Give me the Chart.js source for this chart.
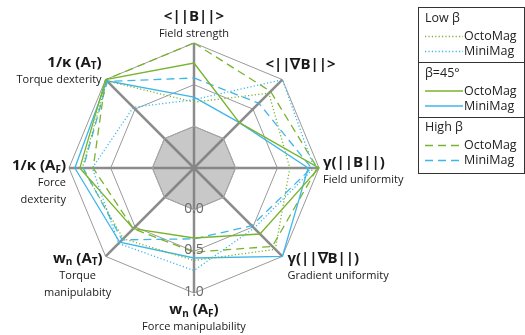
<!DOCTYPE html>
<html>
<head>
<meta charset="utf-8">
<script src="https://cdn.jsdelivr.net/npm/chart.js@4.4.1/dist/chart.umd.min.js"></script>
<style>
  html, body { margin: 0; padding: 0; background: #fff; }
  canvas { display: block; }
</style>
</head>
<body>
<canvas id="radarChart" width="525" height="335"></canvas>
<script>
// axes, clockwise from the top
var labels = ['<||B||>', '<||∇B||>', 'γ(||B||)', 'γ(||∇B||)', 'wn (AF)', 'wn (AT)', '1/κ (AF)', '1/κ (AT)'];
// same titles, "_x" marks a one-letter subscript
var titles = ['<||B||>', '<||∇B||>', 'γ(||B||)', 'γ(||∇B||)', 'w_n (A_F)', 'w_n (A_T)', '1/κ (A_F)', '1/κ (A_T)'];
var subtitles = [['Field strength'], [], ['Field uniformity'], ['Gradient uniformity'],
                 ['Force manipulability'], ['Torque', 'manipulabity'], ['Force', 'dexterity'], ['Torque dexterity']];
var tickValues = [0, 0.5, 1.0];
var tickLabels = ['0.0', '0.5', '1.0'];

var groups = ['Low β', 'β=45°', 'High β'];
var devices = ['OctoMag', 'MiniMag'];

var octoLow  = [0.29, 0.77, 0.65, 0.88, 0.61, 0.70, 0.84, 0.98];
var miniLow  = [0.32, 1.00, 0.94, 0.52, 0.73, 0.78, 0.72, 0.53];
var octoMid  = [0.76, 0.27, 1.00, 0.62, 0.34, 0.53, 0.87, 1.00];
var miniMid  = [0.35, 0.27, 0.87, 1.00, 0.58, 0.76, 0.93, 0.98];
var octoHigh = [1.00, 0.80, 0.98, 0.83, 0.51, 0.53, 0.71, 1.00];
var miniHigh = [0.58, 0.60, 0.91, 0.48, 0.35, 0.72, 0.83, 0.97];
var baseline = [0, 0, 0, 0, 0, 0, 0, 0];

var green = '#78b42e';
var blue = '#3eb6ea';
var dotted = [1.2, 2.2];
var dashed = [8, 5];

function series(label, values, color, dash) {
    return {
        label: label,
        data: values,
        borderColor: color,
        borderDash: dash,
        borderWidth: 1.3,
        backgroundColor: 'transparent',
        fill: false,
        pointRadius: 0,
        pointHoverRadius: 0
    };
}

// draws "w_n (A_F)" style text with subscripts
function drawRich(ctx, text, x, y, align, size) {
    var parts = [];
    for (var i = 0; i < text.length; i++) {
        if (text[i] === '_' && i + 1 < text.length) {
            parts.push({ t: text[i + 1], sub: true });
            i++;
        } else {
            parts.push({ t: text[i], sub: false });
        }
    }
    var big = 'bold ' + size + 'px "Open Sans"';
    var small = 'bold ' + Math.round(size * 0.68) + 'px "Open Sans"';
    var total = 0;
    parts.forEach(function (p) {
        ctx.font = p.sub ? small : big;
        p.w = ctx.measureText(p.t).width;
        total += p.w;
    });
    var cx = align === 'center' ? x - total / 2 : (align === 'right' ? x - total : x);
    ctx.textAlign = 'left';
    ctx.textBaseline = 'middle';
    parts.forEach(function (p) {
        ctx.font = p.sub ? small : big;
        ctx.fillText(p.t, cx, p.sub ? y + 4 : y);
        cx += p.w;
    });
}

// label placement relative to each outer vertex
var labelLayout = [
    { align: 'center', dx: 0,   dy: -26 },
    { align: 'left',   dx: -17, dy: -15 },
    { align: 'left',   dx: 4,   dy: -5 },
    { align: 'left',   dx: 5,   dy: 2 },
    { align: 'center', dx: 0,   dy: 17 },
    { align: 'right',  dx: -3,  dy: 2, subAlign: 'center', subDx: -25 },
    { align: 'right',  dx: -3,  dy: -2 },
    { align: 'right',  dx: -4,  dy: -17 }
];

var axisLabels = {
    id: 'axisLabels',
    afterDatasetsDraw: function (chart) {
        var ctx = chart.ctx;
        var scale = chart.scales.r;
        ctx.save();
        ctx.fillStyle = '#1a1a1a';
        titles.forEach(function (title, i) {
            var p = scale.getPointPosition(i, scale.drawingArea);
            var lay = labelLayout[i];
            var x = p.x + lay.dx;
            var y = p.y + lay.dy;
            drawRich(ctx, title, x, y, lay.align, 15);
            ctx.font = '11px "Open Sans"';
            ctx.textAlign = lay.subAlign || lay.align;
            subtitles[i].forEach(function (line, k) {
                ctx.fillText(line, x + (lay.subDx || 0), y + 17 + k * 17);
            });
        });

        // radial tick labels along the lower axis
        ctx.font = '14px "Open Sans"';
        ctx.fillStyle = '#6a6a6a';
        ctx.textAlign = 'center';
        ctx.textBaseline = 'middle';
        tickValues.forEach(function (v, i) {
            var d = scale.getDistanceFromCenterForValue(v);
            ctx.fillText(tickLabels[i], scale.xCenter, scale.yCenter + d - 1);
        });
        ctx.restore();
    }
};

var groupedLegend = {
    id: 'groupedLegend',
    afterDraw: function (chart) {
        var ctx = chart.ctx;
        var sets = chart.data.datasets;
        var left = 418.5, top = 7.5, w = 106, h = 166;
        ctx.save();
        ctx.strokeStyle = '#333';
        ctx.lineWidth = 1;
        ctx.strokeRect(left, top, w, h);
        ctx.font = '12.5px "Open Sans"';
        ctx.textBaseline = 'middle';
        ctx.textAlign = 'left';
        groups.forEach(function (g, gi) {
            var y0 = top + gi * 54.5;
            if (gi > 0) {
                ctx.strokeStyle = '#333';
                ctx.setLineDash([]);
                ctx.lineWidth = 1;
                ctx.beginPath();
                ctx.moveTo(left, Math.round(y0) + 0.5);
                ctx.lineTo(left + w, Math.round(y0) + 0.5);
                ctx.stroke();
            }
            ctx.fillStyle = '#222';
            ctx.fillText(g, 425, y0 + 11);
            devices.forEach(function (d, di) {
                var ds = sets[gi * 2 + di];
                var y = y0 + 29 + di * 15;
                ctx.strokeStyle = ds.borderColor;
                ctx.lineWidth = 1.3;
                ctx.setLineDash(ds.borderDash);
                ctx.beginPath();
                ctx.moveTo(425, y);
                ctx.lineTo(463, y);
                ctx.stroke();
                ctx.fillStyle = '#222';
                ctx.fillText(d, 464, y);
            });
        });
        ctx.restore();
    }
};

var ctx = document.getElementById('radarChart').getContext('2d');

var radarChart = new Chart(ctx, {
    type: 'radar',
    data: {
        labels: labels,
        datasets: [
            series('Low β OctoMag', octoLow, green, dotted),
            series('Low β MiniMag', miniLow, blue, dotted),
            series('β=45° OctoMag', octoMid, green, []),
            series('β=45° MiniMag', miniMid, blue, []),
            series('High β OctoMag', octoHigh, green, dashed),
            series('High β MiniMag', miniHigh, blue, dashed),
            {
                label: 'zero',
                data: baseline,
                borderColor: '#a8a8a8',
                borderWidth: 1,
                backgroundColor: 'rgba(128,128,128,0.43)',
                fill: 'start',
                pointRadius: 0
            }
        ]
    },
    options: {
        responsive: false,
        animation: false,
        events: [],
        layout: { padding: { left: 69, top: 43, right: 206, bottom: 42 } },
        plugins: {
            legend: { display: false },
            tooltip: { enabled: false }
        },
        scales: {
            r: {
                min: -0.5,
                max: 1.0,
                ticks: { stepSize: 0.5, display: false },
                grid: { color: '#9a9a9a', lineWidth: 1 },
                angleLines: { color: '#8c8c8c', lineWidth: 2.5 },
                pointLabels: { display: false }
            }
        }
    },
    plugins: [axisLabels, groupedLegend]
});
</script>
</body>
</html>
